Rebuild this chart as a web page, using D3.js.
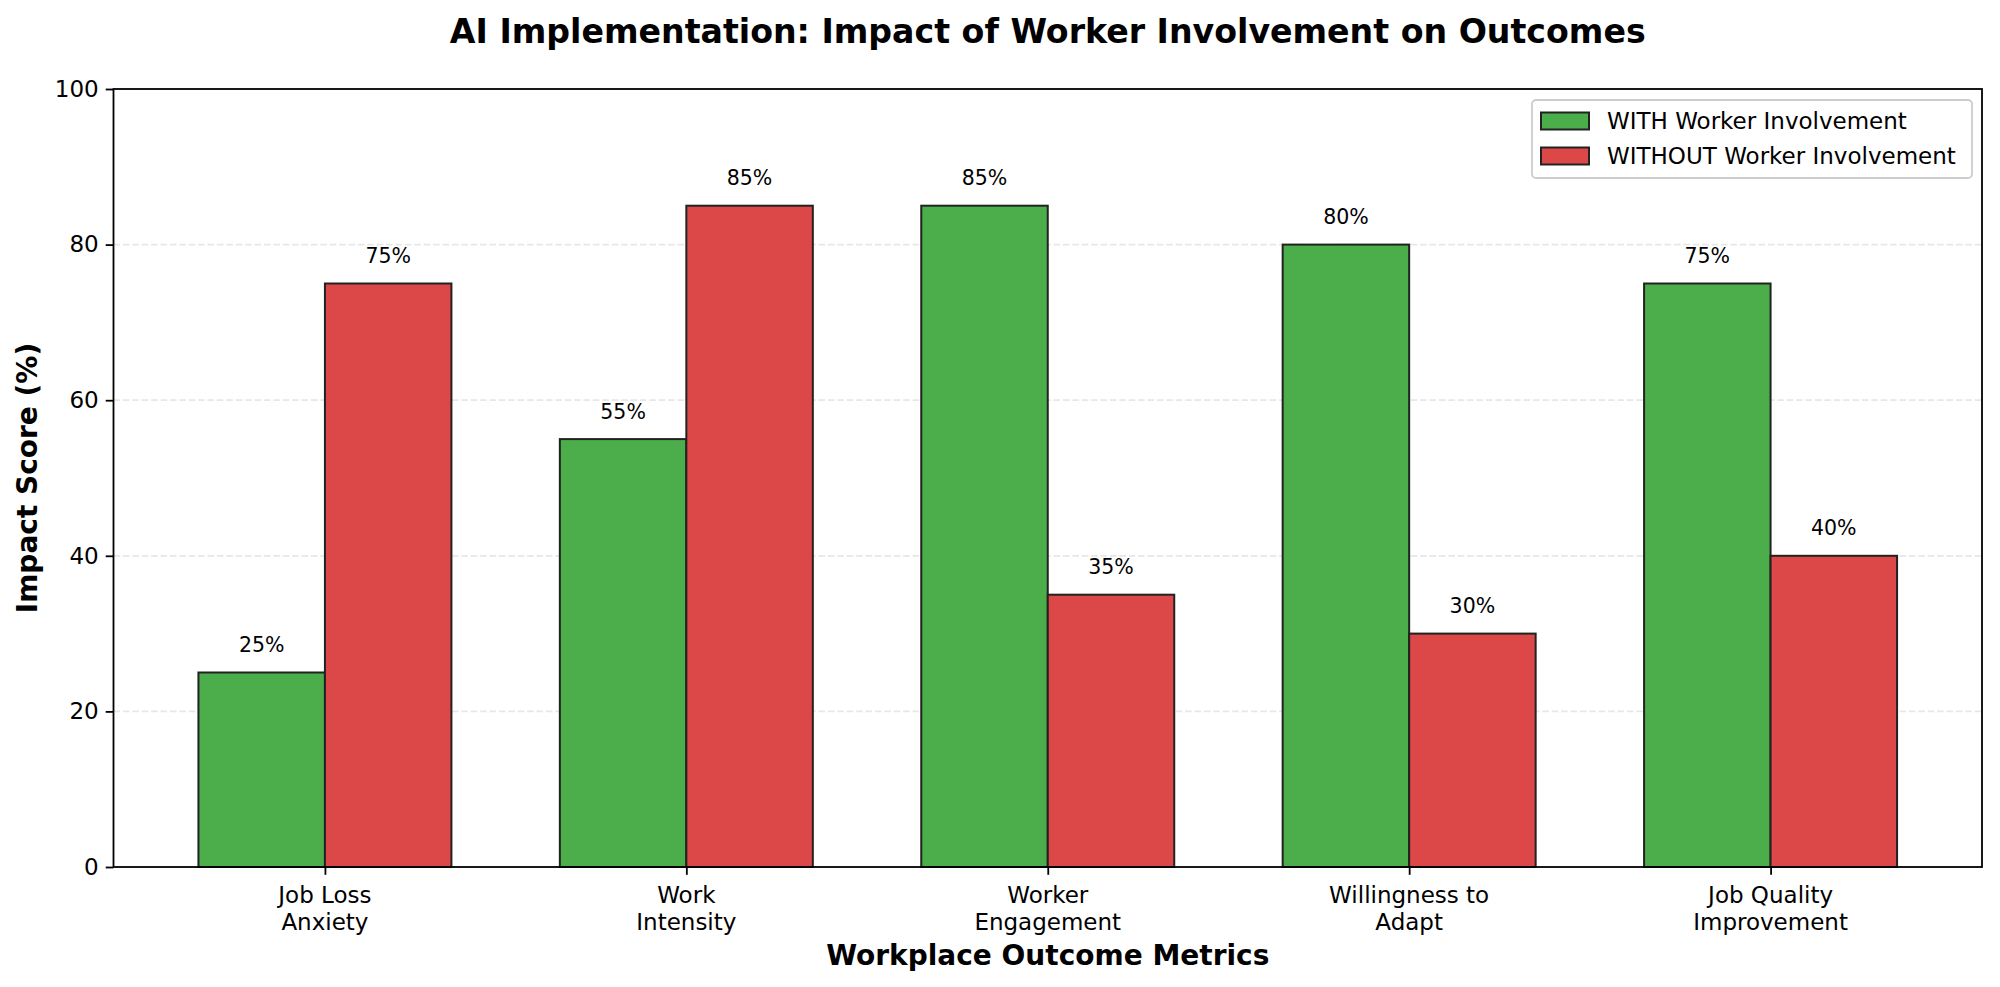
<!DOCTYPE html>
<html>
<head>
<meta charset="utf-8">
<script src="https://cdn.jsdelivr.net/npm/d3@7"></script>
<style>
  body { margin: 0; background: #fff; }
  svg { display: block; font-family: "DejaVu Sans", sans-serif; }
</style>
</head>
<body>
<svg id="chart"></svg>
<script>
const categories = [["Job Loss", "Anxiety"], ["Work", "Intensity"], ["Worker", "Engagement"], ["Willingness to", "Adapt"], ["Job Quality", "Improvement"]];
const withValues = [25, 55, 85, 80, 75];
const withoutValues = [75, 85, 35, 30, 40];
const seriesNames = ["WITH Worker Involvement", "WITHOUT Worker Involvement"];
const yTicks = [0, 20, 40, 60, 80, 100];

const width = 2000, height = 987;
const plotLeft = 113.5, plotRight = 1982, plotTop = 89, plotBottom = 867;
const barW = 0.35;
const colors = ["#4bae4b", "#dc4748"];
const edge = "#222";

const svg = d3.select("#chart").attr("width", width).attr("height", height);

const x = d3.scaleLinear().domain([-0.585, 4.585]).range([plotLeft, plotRight]);
const y = d3.scaleLinear().domain([0, 100]).range([plotBottom, plotTop]);

// grid
svg.append("g")
   .selectAll("line")
   .data(yTicks.filter(t => t > 0 && t < 100))
   .enter()
   .append("line")
   .attr("x1", plotLeft).attr("x2", plotRight)
   .attr("y1", d => y(d)).attr("y2", d => y(d))
   .attr("stroke", "#b0b0b0")
   .attr("stroke-opacity", 0.3)
   .attr("stroke-width", 1.8)
   .attr("stroke-dasharray", "6.6,2.8");

// bars
const series = [withValues, withoutValues];
series.forEach((vals, s) => {
  const off = s === 0 ? -barW / 2 : barW / 2;
  svg.append("g")
     .selectAll("rect")
     .data(vals)
     .enter()
     .append("rect")
     .attr("x", (d, i) => x(i + off - barW / 2))
     .attr("y", d => y(d))
     .attr("width", x(barW) - x(0))
     .attr("height", d => y(0) - y(d))
     .attr("fill", colors[s])
     .attr("stroke", edge)
     .attr("stroke-width", 2);

  svg.append("g")
     .selectAll("text")
     .data(vals)
     .enter()
     .append("text")
     .attr("x", (d, i) => x(i + off))
     .attr("y", d => y(d + 2) - 4.8)
     .attr("text-anchor", "middle")
     .attr("font-size", 20.5)
     .attr("fill", "#000")
     .text(d => d + "%");
});

// axes
const yAxis = d3.axisLeft(y).tickValues(yTicks).tickSize(7.8).tickPadding(7);
const yg = svg.append("g").attr("transform", `translate(${plotLeft},0)`).call(yAxis);
yg.select(".domain").remove();
yg.selectAll("line").attr("stroke-width", 1.8);
yg.selectAll("text").attr("font-size", 23).attr("font-family", "DejaVu Sans").attr("fill", "#000");

const xAxis = d3.axisBottom(x).tickValues(d3.range(categories.length)).tickSize(7.8).tickFormat("");
const xg = svg.append("g").attr("transform", `translate(0,${plotBottom})`).call(xAxis);
xg.select(".domain").remove();
xg.selectAll("line").attr("stroke-width", 1.8);

const xl = svg.append("g")
   .selectAll("text")
   .data(categories)
   .enter()
   .append("text")
   .attr("x", (d, i) => x(i))
   .attr("y", 903)
   .attr("text-anchor", "middle")
   .attr("font-size", 23);
xl.each(function(d) {
  const t = d3.select(this);
  d.forEach((line, k) => {
    t.append("tspan").attr("x", t.attr("x")).attr("dy", k === 0 ? 0 : 26.5).text(line);
  });
});

// frame
svg.append("rect")
   .attr("x", plotLeft).attr("y", plotTop)
   .attr("width", plotRight - plotLeft).attr("height", plotBottom - plotTop)
   .attr("fill", "none").attr("stroke", "#000").attr("stroke-width", 1.8);

// titles
svg.append("text")
   .attr("x", (plotLeft + plotRight) / 2).attr("y", 43)
   .attr("text-anchor", "middle")
   .attr("font-size", 33.2).attr("font-weight", "bold")
   .text("AI Implementation: Impact of Worker Involvement on Outcomes");

svg.append("text")
   .attr("x", (plotLeft + plotRight) / 2).attr("y", 965)
   .attr("text-anchor", "middle")
   .attr("font-size", 28).attr("font-weight", "bold")
   .text("Workplace Outcome Metrics");

svg.append("text")
   .attr("transform", `translate(37,${(plotTop + plotBottom) / 2}) rotate(-90)`)
   .attr("text-anchor", "middle")
   .attr("font-size", 28).attr("font-weight", "bold")
   .text("Impact Score (%)");

// legend
const lg = svg.append("g");
lg.append("rect")
  .attr("x", 1532).attr("y", 100)
  .attr("width", 440).attr("height", 78)
  .attr("rx", 4)
  .attr("fill", "#fff").attr("fill-opacity", 0.8)
  .attr("stroke", "#ccc").attr("stroke-width", 1.8);
seriesNames.forEach((name, s) => {
  const cy = 121 + s * 35;
  lg.append("rect")
    .attr("x", 1541).attr("y", cy - 8.5)
    .attr("width", 48).attr("height", 17)
    .attr("fill", colors[s]).attr("stroke", edge).attr("stroke-width", 2);
  lg.append("text")
    .attr("x", 1607).attr("y", cy + 8.3)
    .attr("font-size", 23)
    .text(name);
});
</script>
</body>
</html>
